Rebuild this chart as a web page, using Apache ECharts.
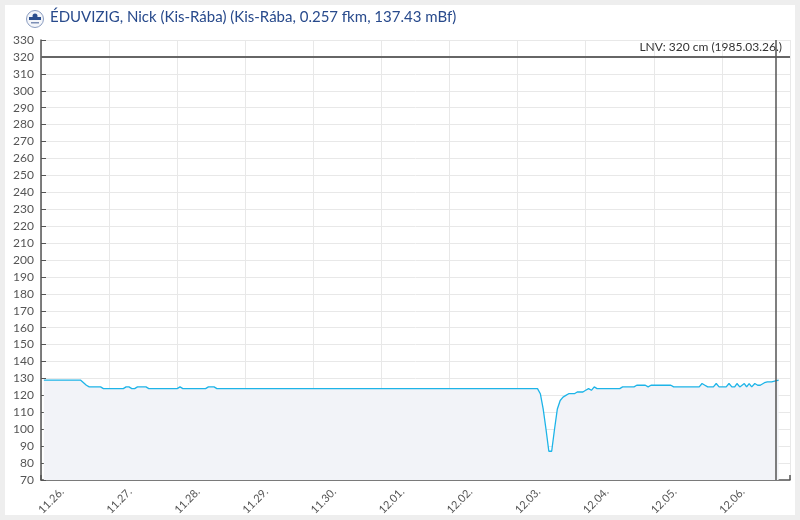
<!DOCTYPE html>
<html>
<head>
<meta charset="utf-8">
<script src="https://cdn.jsdelivr.net/npm/echarts@6/dist/echarts.min.js"></script>
<style>
html,body{margin:0;padding:0;background:#eeeeee;}
#wrap{position:relative;width:800px;height:520px;background:#eeeeee;}
#panel{position:absolute;left:5px;top:5px;width:790px;height:510px;background:#ffffff;}
#chart{position:absolute;left:0;top:0;width:800px;height:520px;}
</style>
</head>
<body>
<div id="wrap"><div id="panel"></div><div id="chart"></div></div>
<script>
// Hours since 11.26. 00:00
const hours = [1, 14, 16, 17, 21, 22, 29, 30, 31, 32, 33, 34, 37, 38, 48, 49, 50, 58, 59, 61, 62,
  175, 176, 177, 178, 179, 180, 181, 182, 183, 184, 185, 186, 188, 189, 191, 192, 193, 194, 195, 196,
  204, 205, 209, 210, 213, 214, 215, 222, 223, 232, 233, 234, 235, 237, 238, 239, 241.5,
  242.5, 243.5, 244.5, 245.3, 246.3, 247, 247.9, 248.7, 249.6, 250.5, 251.6, 252.6, 253.5,
  255, 256, 257.5, 258, 260];
// Water level, cm
const levels = [129, 129, 126, 125, 125, 124, 124, 125, 125, 124, 124, 125, 125, 124, 124, 125, 124, 124, 125, 125, 124,
  124, 121, 112, 100, 87, 87, 100, 112, 117, 119, 120, 121, 121, 122, 122, 123, 124, 123, 125, 124,
  124, 125, 125, 126, 126, 125, 126, 126, 125, 125, 127, 126, 125, 125, 127, 125, 125,
  127, 125, 125, 127, 125, 125, 127, 125, 127, 125, 127, 126, 126,
  127.5, 128, 128, 129, 129];
const tickLabels = ['11.26.', '11.27.', '11.28.', '11.29.', '11.30.', '12.01.', '12.02.', '12.03.', '12.04.', '12.05.', '12.06.', '12.07.'];
const lnvValue = 320;
const lnvText = 'LNV: 320 cm (1985.03.26.)';
const nowHour = 259;
const titleText = 'ÉDUVIZIG, Nick (Kis-Rába) (Kis-Rába, 0.257 fkm, 137.43 mBf)';

const chart = echarts.init(document.getElementById('chart'), null, {renderer: 'canvas'});
const font = 'Lato, "Open Sans", sans-serif';
const axisColor = '#555555';
const gridColor = '#e8e8e8';

chart.setOption({
  animation: false,
  backgroundColor: 'transparent',
  textStyle: {fontFamily: font},
  title: {
    text: titleText,
    left: 50, top: 10, padding: 0,
    textStyle: {fontFamily: font, fontSize: 15, fontWeight: 'normal', color: '#284a8c'}
  },
  graphic: [{
    type: 'group', left: 26, top: 10,
    children: [
      {type: 'circle', shape: {cx: 9, cy: 9, r: 8.5}, style: {fill: '#f4f6fa', stroke: '#8a9cc0', lineWidth: 1}},
      {type: 'rect', shape: {x: 3, y: 7, width: 12, height: 3}, style: {fill: '#2c4f8e'}},
      {type: 'circle', shape: {cx: 9, cy: 6, r: 2.5}, style: {fill: '#2c4f8e'}},
      {type: 'rect', shape: {x: 5, y: 12, width: 8, height: 1.5}, style: {fill: '#7d8fb5'}}
    ]
  }],
  grid: [
    {left: 41, right: 10, top: 40, bottom: 40, containLabel: false, outerBoundsMode: 'none'},
    {left: 62, right: -11, top: 40, bottom: 40, containLabel: false, outerBoundsMode: 'none'}
  ],
  xAxis: [{
    type: 'value', gridIndex: 0, min: 0, max: 264, interval: 24,
    axisLine: {show: true, lineStyle: {color: axisColor, width: 1.5}},
    axisTick: {show: true, inside: true, length: 5, lineStyle: {color: axisColor, width: 1.5}},
    axisLabel: {show: false},
    splitLine: {show: true, lineStyle: {color: gridColor, width: 1}}
  }, {
    type: 'value', gridIndex: 1, min: 0, max: 264, interval: 24,
    axisLine: {show: false}, axisTick: {show: false}, splitLine: {show: false},
    axisLabel: {
      show: true, rotate: 45, margin: 10, color: '#555555', fontSize: 11, fontFamily: font,
      showMaxLabel: false,
      formatter: v => tickLabels[Math.round(v / 24)] || ''
    }
  }],
  yAxis: [{
    type: 'value', gridIndex: 0, min: 70, max: 330, interval: 10,
    axisLine: {show: true, lineStyle: {color: axisColor, width: 1.5}},
    axisTick: {show: true, inside: true, length: 5, lineStyle: {color: axisColor, width: 1}},
    axisLabel: {color: '#555555', fontSize: 12, margin: 7, fontFamily: font},
    splitLine: {show: true, lineStyle: {color: gridColor, width: 1}}
  }, {
    type: 'value', gridIndex: 1, min: 70, max: 330, show: false
  }],
  series: [{
    type: 'line', xAxisIndex: 0, yAxisIndex: 0,
    data: hours.map((h, i) => [h, levels[i]]),
    showSymbol: false, symbol: 'none',
    lineStyle: {color: '#1db4e8', width: 1.3},
    areaStyle: {color: '#f2f3f8', origin: 'start', opacity: 1},
    markLine: {
      silent: true, symbol: ['none', 'none'], animation: false,
      data: [
        {yAxis: lnvValue, lineStyle: {color: '#666666', width: 2, type: 'solid'},
         label: {show: true, position: 'insideEndTop', formatter: lnvText, color: '#333333', fontSize: 12, fontFamily: font, distance: [8, 4]}},
        {xAxis: nowHour, lineStyle: {color: '#555555', width: 1.5, type: 'solid'}, label: {show: false}}
      ]
    }
  }]
});
</script>
</body>
</html>
